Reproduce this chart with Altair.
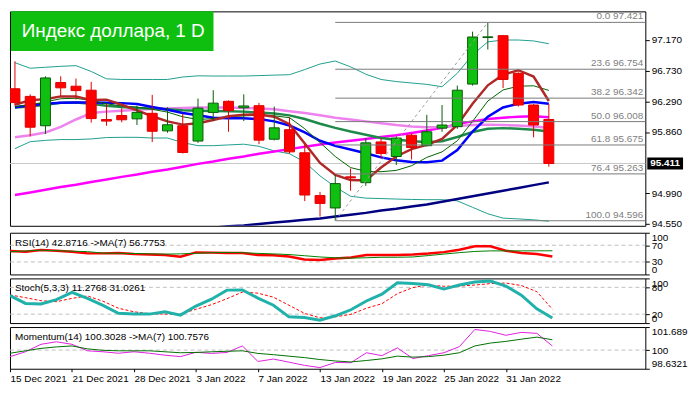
import altair as alt
import pandas as pd

# ---------------- data ----------------
dates = ["15 Dec 2021", "16 Dec 2021", "17 Dec 2021", "20 Dec 2021", "21 Dec 2021", "22 Dec 2021",
         "23 Dec 2021", "27 Dec 2021", "28 Dec 2021", "29 Dec 2021", "30 Dec 2021", "31 Dec 2021",
         "3 Jan 2022", "4 Jan 2022", "5 Jan 2022", "6 Jan 2022", "7 Jan 2022", "10 Jan 2022",
         "11 Jan 2022", "12 Jan 2022", "13 Jan 2022", "14 Jan 2022", "17 Jan 2022", "18 Jan 2022",
         "19 Jan 2022", "20 Jan 2022", "21 Jan 2022", "24 Jan 2022", "25 Jan 2022", "26 Jan 2022",
         "27 Jan 2022", "28 Jan 2022", "31 Jan 2022", "1 Feb 2022", "2 Feb 2022", "3 Feb 2022"]

opens = [96.476, 96.367, 95.949, 96.564, 96.512, 96.455, 96.038, 96.094, 96.047, 96.126, 95.876, 95.949,
         95.731, 96.139, 96.297, 96.205, 96.235, 95.757, 95.893, 95.564, 94.954, 94.778, 95.221, 95.138,
         95.718, 95.511, 95.814, 95.665, 95.915, 95.936, 96.542, 97.205, 97.232, 96.696, 96.244, 96.038]
highs = [96.867, 96.397, 96.653, 96.653, 96.621, 96.574, 96.258, 96.200, 96.235, 96.389, 96.213, 96.117,
         96.337, 96.455, 96.310, 96.397, 96.275, 96.222, 96.068, 95.686, 95.007, 95.248, 95.340, 95.774,
         95.774, 95.797, 95.840, 96.104, 96.244, 96.521, 97.289, 97.421, 97.240, 96.709, 96.258, 96.262]
lows = [96.235, 95.797, 95.831, 96.367, 96.323, 95.994, 95.949, 95.998, 95.959, 95.718, 95.849, 95.554,
        95.705, 96.015, 95.863, 96.015, 95.686, 95.740, 95.554, 94.875, 94.655, 94.596, 95.024, 95.094,
        95.489, 95.389, 95.468, 95.652, 95.863, 95.906, 96.521, 97.034, 96.485, 96.222, 95.784, 95.366]
closes = [96.279, 95.928, 96.630, 96.489, 96.450, 96.051, 96.015, 96.034, 96.139, 95.870, 95.963, 95.568,
          96.200, 96.271, 96.165, 96.231, 95.744, 95.919, 95.577, 94.962, 94.843, 95.125, 95.208, 95.705,
          95.554, 95.774, 95.639, 95.863, 95.959, 96.455, 97.213, 97.215, 96.608, 96.244, 95.959, 95.411]

navy_ma = [None] * 13 + [94.497, 94.517, 94.530, 94.550, 94.570, 94.589, 94.609, 94.629, 94.655, 94.682,
                         94.708, 94.741, 94.767, 94.800, 94.826, 94.866, 94.905, 94.945, 94.984, 95.024,
                         95.063, 95.103, 95.142]
magenta_ma = [94.962, 94.998, 95.037, 95.077, 95.109, 95.149, 95.182, 95.221, 95.254, 95.294, 95.327, 95.366,
              95.406, 95.439, 95.478, 95.511, 95.550, 95.583, 95.616, 95.649, 95.682, 95.709, 95.735, 95.761,
              95.788, 95.814, 95.847, 95.880, 95.919, 95.972, 96.011, 96.044, 96.064, 96.077, 96.084, 96.071]
violet_ma = [95.784, 95.814, 95.853, 95.932, 96.038, 96.130, 96.150, 96.163, 96.176, 96.189, 96.196, 96.202,
             96.209, 96.209, 96.209, 96.202, 96.196, 96.183, 96.156, 96.130, 96.097, 96.064, 96.038, 96.011,
             95.985, 95.959, 95.939, 95.926, 95.932, 95.946, 95.959, 95.965, 95.959, 95.952, 95.939, 95.919]
blue_ma = [96.213, 96.242, 96.262, 96.275, 96.279, 96.279, 96.275, 96.271, 96.258, 96.215, 96.176, 96.130,
           96.097, 96.064, 96.057, 96.057, 96.044, 96.011, 95.952, 95.853, 95.735, 95.662, 95.610, 95.557,
           95.498, 95.458, 95.432, 95.428, 95.452, 95.603, 95.866, 96.077, 96.209, 96.262, 96.288, 96.262]
green_ma = [96.209, 96.222, 96.248, 96.275, 96.281, 96.262, 96.235, 96.215, 96.202, 96.196, 96.183, 96.169,
            96.163, 96.160, 96.156, 96.150, 96.136, 96.123, 96.097, 96.044, 95.978, 95.919, 95.866, 95.820,
            95.774, 95.748, 95.731, 95.715, 95.728, 95.788, 95.860, 95.906, 95.915, 95.906, 95.893, 95.866]
brown_ma = [96.248, 96.314, 96.327, 96.367, 96.367, 96.314, 96.321, 96.248, 96.169, 96.084, 96.011, 95.965,
            95.985, 96.031, 96.084, 96.104, 96.110, 96.077, 95.972, 95.695, 95.419, 95.248, 95.175, 95.169,
            95.353, 95.511, 95.616, 95.676, 95.761, 95.959, 96.262, 96.525, 96.676, 96.740, 96.650, 96.301]
thin_ma = [96.222, 96.248, 96.288, 96.334, 96.340, 96.308, 96.262, 96.229, 96.215, 96.183, 96.143, 96.077,
           96.038, 96.051, 96.077, 96.090, 96.097, 96.090, 96.064, 95.906, 95.709, 95.511, 95.353, 95.300,
           95.294, 95.313, 95.379, 95.498, 95.577, 95.735, 96.011, 96.301, 96.459, 96.512, 96.518, 96.452]
band_up = [96.847, 96.768, 96.782, 96.795, 96.805, 96.722, 96.617, 96.608, 96.608, 96.608, 96.608, 96.643,
           96.660, 96.657, 96.657, 96.657, 96.663, 96.670, 96.676, 96.749, 96.828, 96.871, 96.788, 96.683,
           96.608, 96.578, 96.558, 96.538, 96.505, 96.696, 96.959, 97.144, 97.170, 97.170, 97.157, 97.117]
band_dn = [95.623, 95.722, 95.741, 95.752, 95.752, 95.761, 95.781, 95.784, 95.784, 95.774, 95.774, 95.709,
           95.665, 95.665, 95.676, 95.686, 95.656, 95.590, 95.550, 95.432, 95.235, 95.077, 94.945, 94.918,
           94.912, 94.905, 94.899, 94.896, 94.896, 94.879, 94.787, 94.695, 94.633, 94.622, 94.609, 94.589]

fib_pct = [0.0, 23.6, 38.2, 50.0, 61.8, 76.4, 100.0]
fib_price = [97.421, 96.754, 96.342, 96.008, 95.675, 95.263, 94.596]

rsi = [56.3, 54.4, 58.6, 57.0, 54.2, 50.5, 50.5, 51.2, 48.8, 47.7, 46.5, 42.6, 52.8, 52.3, 51.2, 51.2, 46.5, 46.0,
       43.0, 36.0, 34.9, 38.4, 40.7, 46.5, 46.5, 46.5, 47.7, 50.0, 53.5, 59.3, 67.4, 67.4, 57.0, 51.2, 48.8, 42.9]
rsi_ma = [54.2, 56.3, 58.1, 57.0, 55.8, 54.7, 51.2, 50.7, 50.2, 49.5, 48.8, 49.3, 50.7, 52.1, 52.8, 52.1, 50.5, 49.3,
          47.7, 44.9, 41.9, 40.0, 39.1, 40.0, 41.2, 41.2, 41.9, 45.3, 48.8, 52.3, 55.1, 56.5, 56.5, 56.5, 56.6, 56.8]
stoch_k = [61.4, 44.0, 42.7, 52.4, 68.8, 55.3, 39.5, 21.9, 20.1, 20.1, 25.3, 17.8, 38.1, 53.5, 73.8, 74.3, 55.8, 40.0,
           14.0, 12.4, 6.5, 16.3, 29.8, 49.4, 64.8, 90.3, 88.5, 85.6, 76.1, 85.1, 91.9, 94.1, 82.8, 62.5, 32.0, 11.3]
stoch_d = [63.0, 56.9, 50.1, 47.9, 55.3, 60.7, 49.0, 33.2, 25.3, 20.8, 20.1, 20.1, 30.9, 41.1, 54.6, 69.3, 67.0, 58.0,
           40.0, 21.9, 11.7, 14.0, 19.6, 33.2, 43.3, 65.9, 79.5, 85.1, 82.4, 82.8, 85.1, 88.5, 89.6, 84.0, 70.4, 31.0]
mom = [99.520, 99.876, 100.424, 100.608, 100.424, 99.947, 99.876, 99.770, 99.876, 99.770, 99.627, 99.520,
       99.840, 99.755, 99.826, 100.303, 99.165, 99.343, 99.115, 98.881, 98.717, 99.094, 99.073, 99.805,
       99.592, 100.160, 99.378, 99.592, 99.805, 100.253, 101.511, 101.369, 101.085, 101.298, 101.227, 100.303]
mom_ma = [99.769, 99.947, 100.125, 100.232, 100.303, 100.089, 99.983, 99.947, 99.947, 99.947, 99.876, 99.805,
          99.826, 99.876, 99.912, 99.947, 99.755, 99.663, 99.556, 99.450, 99.307, 99.200, 99.130, 99.236,
          99.357, 99.556, 99.485, 99.521, 99.627, 99.805, 100.303, 100.516, 100.637, 100.800, 100.950, 100.758]

main_ticks = [94.550, 94.990, 95.860, 96.290, 96.730, 97.170]
rsi_ticks = [0, 30, 70, 100]
rsi_levels = [30, 70]
sto_ticks = [0, 20, 80, 100]
sto_levels = [20, 80]
mom_ticks = [98.6321, 100, 101.689]
mom_levels = [100]
date_ticks = [0, 4, 8, 12, 16, 20, 24, 28, 32]

title_text = "Индекс доллара, 1 D"
rsi_title = "RSI(14) 42.8716  ->MA(7) 56.7753"
sto_title = "Stoch(5,3,3) 11.2768 31.0261"
mom_title = "Momentum(14) 100.3028  ->MA(7) 100.7576"

# ---------------- layout ----------------
W = 640
H_MAIN, H_RSI, H_STO, H_MOM = 216, 42, 45, 42
FONT = "Liberation Sans"
XSC = alt.Scale(domain=[0, 41], nice=False, zero=False)

n = len(dates)
df = pd.DataFrame({
    "i": list(range(n)), "open": opens, "high": highs, "low": lows, "close": closes,
    "navy": navy_ma, "magenta": magenta_ma, "violet": violet_ma, "blue": blue_ma,
    "green": green_ma, "brown": brown_ma, "thin": thin_ma, "bup": band_up, "bdn": band_dn,
    "rsi": rsi, "rsi_ma": rsi_ma, "k": stoch_k, "d": stoch_d, "mom": mom, "mom_ma": mom_ma,
})
df["dir"] = ["up" if c >= o else "down" for o, c in zip(opens, closes)]


def right_axis(values, fmt=None, flush=False, expr=None):
    kw = dict(orient="right", values=values, tickSize=4, labelPadding=2, domain=False, grid=False,
              ticks=True, tickColor="black", labelColor="black", labelFont=FONT, labelFontSize=10,
              labelOverlap=False, labelFlush=flush)
    if fmt:
        kw["format"] = fmt
    if expr:
        kw["labelExpr"] = expr
    return alt.Axis(**kw)


xn = alt.X("i:Q", scale=XSC, axis=None)

# ---- main panel ----
YM = alt.Scale(domain=[94.524, 97.578], nice=False, zero=False)
AX_M = right_axis(main_ticks, fmt=".3f")


def ym(f):
    return alt.Y(f"{f}:Q", scale=YM, axis=AX_M, title=None)


base = alt.Chart(df)


def mline(col, color, w, **kw):
    return base.mark_line(color=color, strokeWidth=w, clip=True, **kw).encode(x=xn, y=ym(col))


last_close = closes[-1]
bid_df = pd.DataFrame({"p": [last_close], "t": [f"{last_close:.3f}"]})
bid_line = alt.Chart(bid_df).mark_rule(color="#c8c8c8", strokeWidth=1).encode(
    x=alt.value(0), x2=alt.value(W), y=ym("p"))

candle_color = alt.Scale(domain=["up", "down"], range=["#0a5a0a", "#e00000"])
fill_color = alt.Scale(domain=["up", "down"], range=["#10c010", "#ff0000"])
wicks = base.mark_rule(strokeWidth=1, clip=True).encode(
    x=xn, y=ym("low"), y2="high", color=alt.Color("dir:N", scale=candle_color, legend=None))
bodies = base.mark_bar(width=10, strokeWidth=1, clip=True).encode(
    x=xn, y=ym("open"), y2="close",
    fill=alt.Fill("dir:N", scale=fill_color, legend=None),
    stroke=alt.Stroke("dir:N", scale=candle_color, legend=None))

lo_i = min(range(n), key=lambda j: lows[j])
hi_i = max(range(n), key=lambda j: highs[j])
fib_df = pd.DataFrame({"start": [lo_i] * len(fib_pct), "p": fib_price,
                       "t": [f"{a:.1f} {b:.3f}" for a, b in zip(fib_pct, fib_price)]})
fib_lines = alt.Chart(fib_df).mark_rule(color="#7a7a7a", strokeWidth=1).encode(
    x=alt.X("start:Q", scale=XSC, axis=None), x2=alt.value(W), y=ym("p"))
fib_text = alt.Chart(fib_df).mark_text(align="right", baseline="bottom", dy=-1, font=FONT, fontSize=10,
                                        color="#808080").encode(x=alt.value(W - 2), y=ym("p"), text="t:N")
diag_df = pd.DataFrame({"i": [lo_i, hi_i], "p": [lows[lo_i], highs[hi_i]]})
diag = alt.Chart(diag_df).mark_line(color="#9a9a9a", strokeWidth=1, strokeDash=[3, 3], clip=True).encode(
    x=xn, y=ym("p"))

ttl_df = pd.DataFrame({"t": [title_text]})
ttl_box = alt.Chart(ttl_df).mark_rect(color="#0fbf0f").encode(
    x=alt.value(1), x2=alt.value(205), y=alt.value(0), y2=alt.value(40))
ttl_txt = alt.Chart(ttl_df).mark_text(font=FONT, fontSize=19, color="white", align="center",
                                      baseline="middle").encode(x=alt.value(104), y=alt.value(20), text="t:N")

price_box = alt.Chart(bid_df).mark_point(shape="M-1.5,-0.5L1.5,-0.5L1.5,0.5L-1.5,0.5Z", size=576,
                                         filled=True, color="black", opacity=1).encode(
    x=alt.value(W + 20), y=ym("p"))
price_txt = alt.Chart(bid_df).mark_text(font=FONT, fontSize=10, fontWeight="bold", color="white",
                                        align="left", baseline="middle").encode(
    x=alt.value(W + 5), y=ym("p"), text="t:N")

main = alt.layer(
    bid_line,
    mline("bup", "#1f9f8f", 1), mline("bdn", "#1f9f8f", 1),
    mline("navy", "#000080", 2.5), mline("magenta", "#ff00ff", 2.5), mline("violet", "#ee82ee", 2.5),
    mline("green", "#1e8a4a", 2.5), mline("blue", "#0000ff", 2.5), mline("thin", "#006400", 1),
    mline("brown", "#b02828", 2.5),
    wicks, bodies,
    fib_lines, fib_text, diag,
    ttl_box, ttl_txt, price_box, price_txt,
).properties(width=W, height=H_MAIN)


# ---- sub panels ----
def sub_panel(height, domain, ticks, levels, title, layers_spec, x_axis=None, fmt=None, expr=None):
    ysc = alt.Scale(domain=domain, nice=False, zero=False)
    ax = right_axis(ticks, fmt=fmt, flush=True, expr=expr)
    xx = alt.X("i:Q", scale=XSC, axis=x_axis)

    def yy(f):
        return alt.Y(f"{f}:Q", scale=ysc, axis=ax, title=None)

    lv = alt.Chart(pd.DataFrame({"v": levels})).mark_rule(color="#c0c0c0", strokeDash=[4, 3], strokeWidth=1).encode(
        x=alt.value(0), x2=alt.value(W), y=yy("v"))
    layers = [lv]
    for col, color, w, dash in layers_spec:
        kw = dict(color=color, strokeWidth=w, clip=True)
        if dash:
            kw["strokeDash"] = dash
        layers.append(base.mark_line(**kw).encode(x=xx, y=yy(col)))
    txt = alt.Chart(pd.DataFrame({"t": [title]})).mark_text(
        font=FONT, fontSize=10, color="black", align="left", baseline="middle").encode(
        x=alt.value(5), y=alt.value(10), text="t:N")
    layers.append(txt)
    return alt.layer(*layers).properties(width=W, height=height)


rsi_panel = sub_panel(H_RSI, [0, 100], rsi_ticks, rsi_levels, rsi_title,
                      [("rsi", "#ff0000", 2.5, None), ("rsi_ma", "#008000", 1, None)])
sto_panel = sub_panel(H_STO, [0, 100], sto_ticks, sto_levels, sto_title,
                      [("d", "#ff0000", 1, [3, 2]), ("k", "#20b2aa", 3, None)])

date_expr = "[" + ",".join(f"'{d}'" for d in dates) + "][datum.value]"
x_axis_bottom = alt.Axis(values=date_ticks, labelExpr=date_expr, labelAlign="left", labelPadding=2,
                         labelOffset=0, tickSize=3, domain=False, grid=False, labelFlush=False,
                         labelOverlap=False, labelFont=FONT, labelFontSize=10, labelColor="black",
                         tickColor="black", title=None)
mom_panel = sub_panel(H_MOM, [98.6321, 101.689], mom_ticks, mom_levels, mom_title,
                      [("mom", "#e020e0", 1, None), ("mom_ma", "#007000", 1, None)],
                      x_axis=x_axis_bottom, fmt=".6~r")

chart = alt.vconcat(main, rsi_panel, sto_panel, mom_panel, spacing=2).properties(
    padding={"left": 1, "top": 1, "right": 1, "bottom": 1}, background="white"
).configure_view(stroke="black", strokeWidth=1)

chart.save("out.html", embed_options={"renderer": "svg", "actions": False})
